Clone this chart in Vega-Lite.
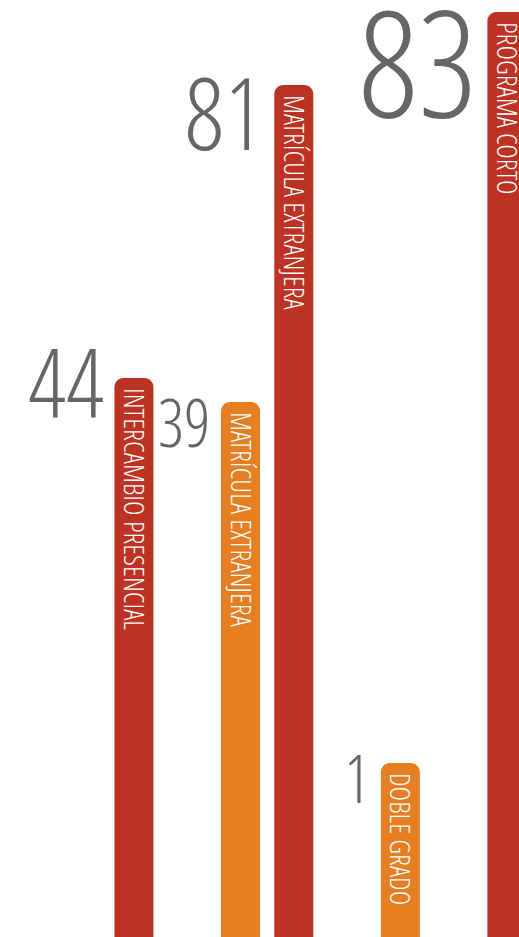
{
  "$schema": "https://vega.github.io/schema/vega-lite/v6.json",
  "width": 519,
  "height": 937,
  "autosize": "none",
  "padding": 0,
  "background": "#ffffff",
  "config": {"view": {"stroke": null}},
  "data": {
    "values": [
      {"posicion": 0, "etiqueta": "INTERCAMBIO PRESENCIAL", "valor": 44, "serie": "Serie 1"},
      {"posicion": 2, "etiqueta": "MATRÍCULA EXTRANJERA", "valor": 39, "serie": "Serie 2"},
      {"posicion": 3, "etiqueta": "MATRÍCULA EXTRANJERA", "valor": 81, "serie": "Serie 1"},
      {"posicion": 5, "etiqueta": "DOBLE GRADO", "valor": 1, "serie": "Serie 2"},
      {"posicion": 7, "etiqueta": "PROGRAMA CORTO", "valor": 83, "serie": "Serie 1"}
    ]
  },
  "encoding": {
    "x": {
      "field": "posicion",
      "type": "quantitative",
      "scale": {"domain": [-2.514, 7.227], "nice": false, "zero": false, "padding": 0},
      "axis": null
    }
  },
  "layer": [
    {
      "mark": {
        "type": "bar",
        "width": 39,
        "cornerRadiusTopLeft": 9,
        "cornerRadiusTopRight": 9
      },
      "encoding": {
        "y": {
          "field": "valor",
          "type": "quantitative",
          "scale": {
            "domain": [0, 1, 39, 44, 81, 83],
            "range": [937, 763, 402, 378, 85, 12],
            "nice": false,
            "zero": false
          },
          "axis": null
        },
        "y2": {"datum": 0},
        "color": {
          "field": "serie",
          "type": "nominal",
          "scale": {"domain": ["Serie 1", "Serie 2"], "range": ["#BD3222", "#E67E22"]},
          "legend": null
        }
      }
    },
    {
      "mark": {
        "type": "text",
        "angle": 90,
        "align": "left",
        "baseline": "middle",
        "dx": 10,
        "dy": 2,
        "font": "'Open Sans Condensed Light', 'Open Sans Condensed', sans-serif",
        "fontSize": 28,
        "color": "#ffffff"
      },
      "encoding": {
        "y": {
          "field": "valor",
          "type": "quantitative",
          "scale": {
            "domain": [0, 1, 39, 44, 81, 83],
            "range": [937, 763, 402, 378, 85, 12],
            "nice": false,
            "zero": false
          },
          "axis": null
        },
        "text": {"field": "etiqueta", "type": "nominal"}
      }
    },
    {
      "mark": {
        "type": "text",
        "align": "right",
        "baseline": "top",
        "dx": -30,
        "font": "'Open Sans Condensed Light', 'Open Sans Condensed', sans-serif",
        "color": "#666666"
      },
      "encoding": {
        "y": {
          "field": "valor",
          "type": "quantitative",
          "scale": {
            "domain": [1, 39, 44, 81, 83],
            "range": [751, 395, 342, 72, 1],
            "nice": false,
            "zero": false
          },
          "axis": null
        },
        "text": {"field": "valor", "type": "quantitative"},
        "size": {
          "field": "valor",
          "type": "quantitative",
          "scale": {"domain": [1, 39, 44, 81, 83], "range": [66, 66, 95, 99, 148], "zero": false, "nice": false},
          "legend": null
        }
      }
    }
  ],
  "resolve": {"scale": {"y": "independent"}}
}
